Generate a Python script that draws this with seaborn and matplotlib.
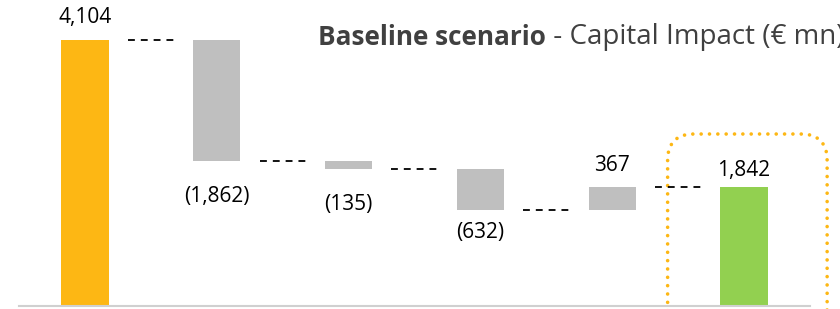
import matplotlib
matplotlib.use("Agg")
import matplotlib.pyplot as plt
from matplotlib.patches import FancyBboxPatch
import numpy as np
import pandas as pd
import seaborn as sns

# waterfall steps, capital impact in EUR mn
steps = ["Start", "Step 1", "Step 2", "Step 3", "Step 4", "End"]
values = [4104, -1862, -135, -632, 367, 1842]
is_total = [True, False, False, False, False, True]
value_labels = ["4,104", "(1,862)", "(135)", "(632)", "367", "1,842"]

# floating bars: bottoms from the running total
bottoms = []
running = 0
for v, tot in zip(values, is_total):
    if tot:
        bottoms.append(0)
        running = v
    else:
        bottoms.append(running)
        running += v
ends = np.array(bottoms) + np.array(values)

df = pd.DataFrame({"step": steps, "value": values, "bottom": bottoms})

orange = "#FDB714"
gray = "#BFBFBF"
green = "#92D050"
bar_colors = [orange, gray, gray, gray, gray, green]

sns.set_theme(style="white")
plt.rcParams["font.family"] = ["Open Sans", "DejaVu Sans"]

fig = plt.figure(figsize=(8.4, 3.09), dpi=100)
fig.patch.set_facecolor("white")
ax = fig.add_axes([19 / 840, 3 / 309, 791 / 840, 306 / 309])

sns.barplot(data=df, x="step", y="value", bottom=df["bottom"].to_numpy(),
            width=0.36, color=gray, saturation=1, errorbar=None, ax=ax)
for p, c in zip(ax.patches, bar_colors):
    p.set_facecolor(c)
    p.set_edgecolor("none")

ax.set_xlim(-0.5, 5.5)
ax.set_ylim(0, 4722)

# dashed connectors between bars
for i in range(len(steps) - 1):
    ax.plot([i + 0.325, i + 0.68], [ends[i], ends[i]], color="black", lw=1.3,
            dashes=(3.8, 3.3), dash_capstyle="butt")

# value labels (offsets in points)
label_offsets = [16, -26, -25, -16, 15, 11.5]
for i, (lab, off) in enumerate(zip(value_labels, label_offsets)):
    if off > 0:
        y = max(bottoms[i], ends[i])
    else:
        y = min(bottoms[i], ends[i])
    ax.annotate(lab, (i, y), xytext=(0, off), textcoords="offset points",
                ha="center", va="center", fontsize=15, color="black")

# dotted highlight around the final bar
bbox = ax.get_window_extent()
x_px = bbox.width / (ax.get_xlim()[1] - ax.get_xlim()[0])
y_px = bbox.height / (ax.get_ylim()[1] - ax.get_ylim()[0])
box = FancyBboxPatch((4.42, -500), 1.21, 3154,
                     boxstyle="round,pad=0,rounding_size=0.2",
                     mutation_aspect=x_px / y_px, fill=False,
                     edgecolor=orange, lw=2.6, linestyle=(0, (0.01, 2.3)),
                     capstyle="round", clip_on=False, zorder=0)
ax.add_patch(box)

ax.set_xlabel("")
ax.set_ylabel("")
ax.set_xticks([])
ax.set_yticks([])
for s in ["top", "left", "right"]:
    ax.spines[s].set_visible(False)
ax.spines["bottom"].set_color("#D0D0D0")
ax.spines["bottom"].set_linewidth(1.5)

# title: bold part then regular part (runs off the right edge as in the source)
t1 = fig.text(318 / 840, 264 / 309, "Baseline scenario", fontsize=18.8,
              fontweight="bold", color="#404040", va="baseline", ha="left")
ax.annotate(" - Capital Impact (€ mn)", xy=(1, 0), xycoords=t1,
            va="bottom", ha="left", fontsize=20, color="#404040",
            annotation_clip=False)

fig.savefig("out.png", dpi=100, facecolor="white")
